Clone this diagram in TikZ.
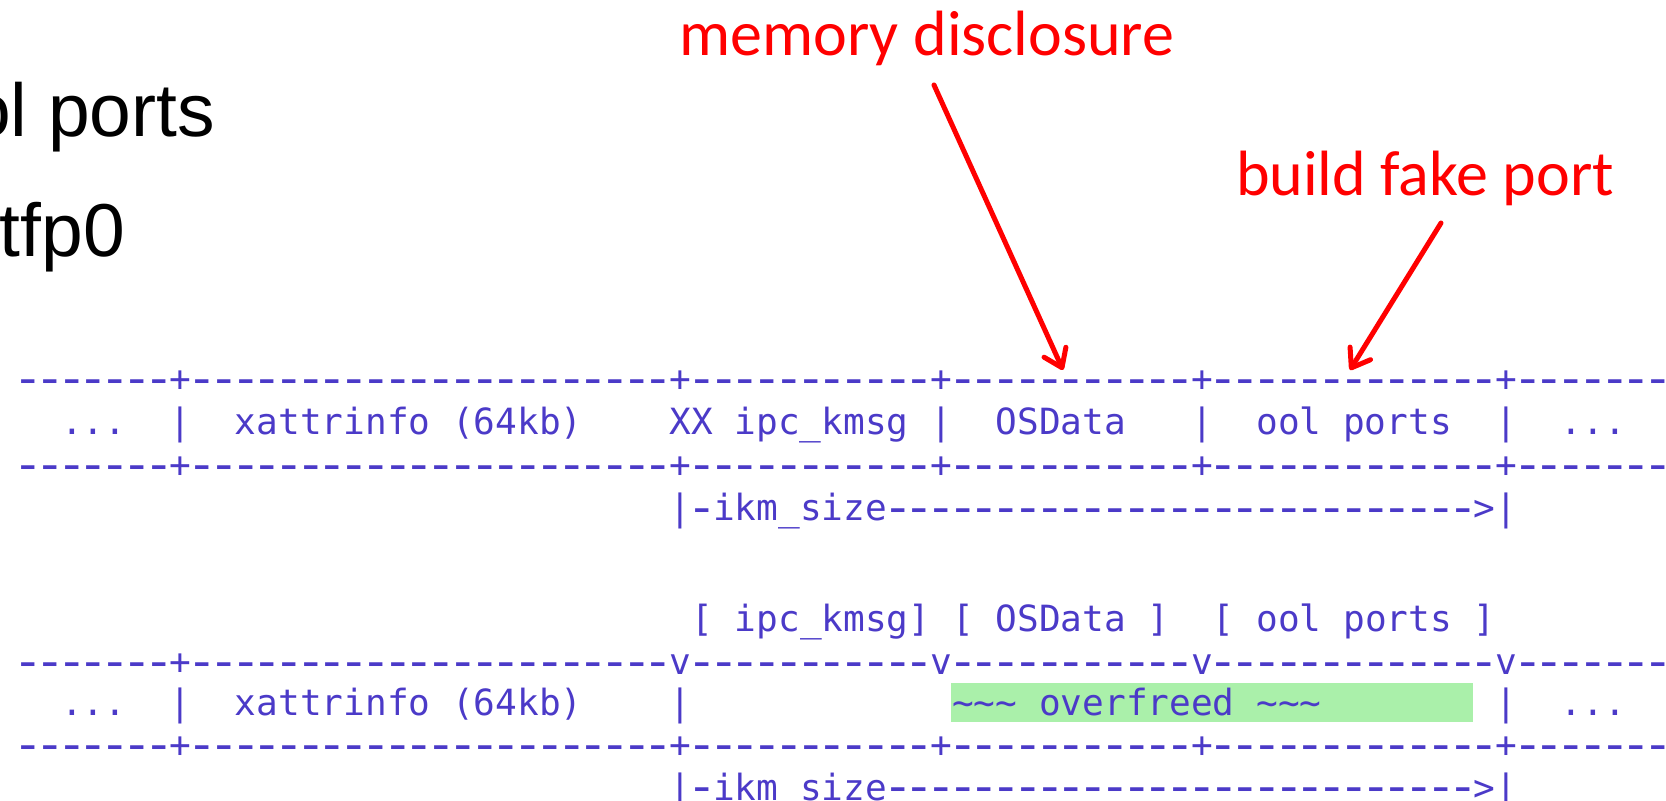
\documentclass[tikz,border=0pt]{standalone}
\usepackage{fontspec}
\usetikzlibrary{arrows.meta}
\newfontfamily\asciimono{DejaVu Sans Mono}[Ligatures=TeXOff]
\newfontfamily\redfont{Carlito}
\newfontfamily\blackfont{Liberation Sans}
\definecolor{asciicol}{RGB}{75,58,200}
\definecolor{hlgreen}{RGB}{170,240,170}
\definecolor{pptred}{RGB}{255,0,0}
\newcommand\onedash{\makebox[0.602em][c]{\raisebox{-0.06em}{\scalebox{1.45}[1.3]{-}}}}
\ExplSyntaxOn
\cs_new:Npn \Dsh #1 {\prg_replicate:nn{#1}{\onedash}}
\cs_new:Npn \Spc #1 {\prg_replicate:nn{#1}{\nobreakspace}}
\ExplSyntaxOff
\newcommand\tld{\char"7E\relax}
\tikzset{
  asc/.style={font=\asciimono\fontsize{18.05}{20}\selectfont, text=asciicol, inner sep=0pt, outer sep=0pt, anchor=base west},
  redlbl/.style={font=\redfont\fontsize{32}{36}\selectfont, text=pptred, inner sep=0pt, outer sep=0pt, anchor=base west},
  blklbl/.style={font=\blackfont\fontsize{37.5}{42}\selectfont, text=black, inner sep=0pt, outer sep=0pt, anchor=base east},
  redarrow/.style={draw=pptred, line width=2.5pt, line cap=round, -{Straight Barb[length=8.5pt,width=12pt,round]}},
}
\begin{document}
\frenchspacing
\begin{tikzpicture}[x=0.5pt,y=-0.5pt]
\useasboundingbox (0,0) rectangle (1666,801);
% black bullet text (cut off at the left)
\node[blklbl] (oolports) at (215,137) {ol ports};
\node[blklbl] (tfp) at (125,257) {tfp0};
% red labels
\node[redlbl] (memdis) at (679.5,56) {memory disclosure};
\node[redlbl] (fakeport) at (1236,196) {build fake port};
% highlight
\fill[hlgreen] (951,683) rectangle (1473,722);
% ascii block 1
\node[asc] (r1) at (17.6,392) {\Dsh{7}+\Dsh{22}+\Dsh{11}+\Dsh{11}+\Dsh{13}+\Dsh{8}};
\node[asc] (r2) at (17.6,435) {\Spc{2}...\Spc{2}|\Spc{2}xattrinfo~(64kb)\Spc{4}XX~ipc\_kmsg~|\Spc{2}OSData\Spc{3}|\Spc{2}ool~ports\Spc{2}|\Spc{2}...};
\node[asc] (r3) at (17.6,478) {\Dsh{7}+\Dsh{22}+\Dsh{11}+\Dsh{11}+\Dsh{13}+\Dsh{8}};
\node[asc] (r4) at (17.6,521) {\Spc{30}|\onedash ikm\_size\Dsh{27}>|};
% ascii block 2
\node[asc] (r5) at (17.6,632) {\Spc{31}[~ipc\_kmsg]~[~OSData~]\Spc{2}[~ool~ports~]};
\node[asc] (r6) at (17.6,675) {\Dsh{7}+\Dsh{22}v\Dsh{11}v\Dsh{11}v\Dsh{13}v\Dsh{8}};
\node[asc] (r7) at (17.6,716) {\Spc{2}...\Spc{2}|\Spc{2}xattrinfo~(64kb)\Spc{4}|\Spc{12}\tld\tld\tld~overfreed~\tld\tld\tld\Spc{8}|\Spc{2}...};
\node[asc] (r8) at (17.6,758) {\Dsh{7}+\Dsh{22}+\Dsh{11}+\Dsh{11}+\Dsh{13}+\Dsh{8}};
\node[asc] (r9) at (17.6,800) {\Spc{30}|\onedash ikm\_size\Dsh{27}>|};
% arrows
\coordinate (a1s) at (934,85);
\coordinate (a1e) at (1063,370);
\coordinate (a2s) at (1441,223);
\coordinate (a2e) at (1350,370);
\draw[redarrow] (a1s) -- (a1e);
\draw[redarrow] (a2s) -- (a2e);
\end{tikzpicture}
\end{document}
